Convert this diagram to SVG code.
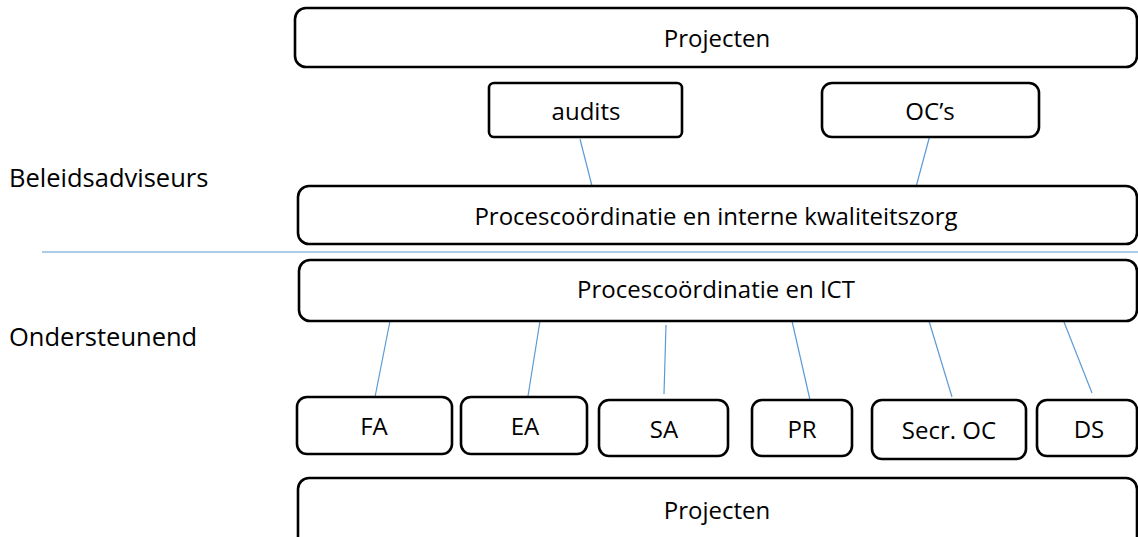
<svg xmlns="http://www.w3.org/2000/svg" width="1138" height="537" viewBox="0 0 1138 537">
  <style>
    .box { fill: #ffffff; stroke: #000000; stroke-width: 2.6; }
    .lbl { font-family: "Open Sans", "DejaVu Sans", sans-serif; font-size: 24px; fill: #000000; text-anchor: middle; }
    .side { font-family: "Open Sans", "DejaVu Sans", sans-serif; font-size: 25.5px; fill: #000000; }
    .link { stroke: #5b9bd5; stroke-width: 1.2; fill: none; }
  </style>

  <!-- section labels and divider -->
  <text class="side" x="9" y="187">Beleidsadviseurs</text>
  <text class="side" x="9" y="346">Ondersteunend</text>
  <line class="link" x1="42" y1="252" x2="1138" y2="252"/>

  <!-- connectors -->
  <g id="connectors">
    <line class="link" x1="580" y1="139" x2="592" y2="186"/>
    <line class="link" x1="930" y1="135" x2="916" y2="187"/>
    <line class="link" x1="390" y1="321" x2="375" y2="397"/>
    <line class="link" x1="540" y1="321" x2="528" y2="396"/>
    <line class="link" x1="666" y1="325" x2="664" y2="394"/>
    <line class="link" x1="792" y1="321" x2="810" y2="400"/>
    <line class="link" x1="929" y1="321" x2="952" y2="397"/>
    <line class="link" x1="1064" y1="322" x2="1092" y2="393"/>
  </g>

  <g id="projecten-top">
    <rect class="box" x="295" y="8" width="842" height="59" rx="11"/>
    <text class="lbl" x="717" y="47">Projecten</text>
  </g>

  <g id="audits">
    <rect class="box" x="489" y="83" width="193" height="54" rx="5"/>
    <text class="lbl" x="586" y="120">audits</text>
  </g>

  <g id="ocs">
    <rect class="box" x="822" y="83" width="217" height="54" rx="10"/>
    <text class="lbl" x="930" y="120">OC’s</text>
  </g>

  <g id="kwaliteitszorg">
    <rect class="box" x="298" y="186" width="839" height="58" rx="11"/>
    <text class="lbl" x="716" y="225">Procescoördinatie en interne kwaliteitszorg</text>
  </g>

  <g id="ict">
    <rect class="box" x="299" y="260" width="838" height="61" rx="11"/>
    <text class="lbl" x="716" y="298">Procescoördinatie en ICT</text>
  </g>

  <g id="fa">
    <rect class="box" x="297" y="397" width="155" height="57" rx="10"/>
    <text class="lbl" x="374" y="435">FA</text>
  </g>

  <g id="ea">
    <rect class="box" x="461" y="397" width="126" height="57" rx="10"/>
    <text class="lbl" x="525" y="435">EA</text>
  </g>

  <g id="sa">
    <rect class="box" x="599" y="400" width="129" height="56" rx="10"/>
    <text class="lbl" x="664" y="438">SA</text>
  </g>

  <g id="pr">
    <rect class="box" x="752" y="400" width="100" height="56" rx="10"/>
    <text class="lbl" x="802" y="438">PR</text>
  </g>

  <g id="secr-oc">
    <rect class="box" x="872" y="400" width="154" height="59" rx="10"/>
    <text class="lbl" x="949" y="439">Secr. OC</text>
  </g>

  <g id="ds">
    <rect class="box" x="1037" y="400" width="100" height="56" rx="10"/>
    <text class="lbl" x="1089" y="438">DS</text>
  </g>

  <g id="projecten-bottom">
    <rect class="box" x="298" y="478" width="839" height="80" rx="11"/>
    <text class="lbl" x="717" y="519">Projecten</text>
  </g>
</svg>
